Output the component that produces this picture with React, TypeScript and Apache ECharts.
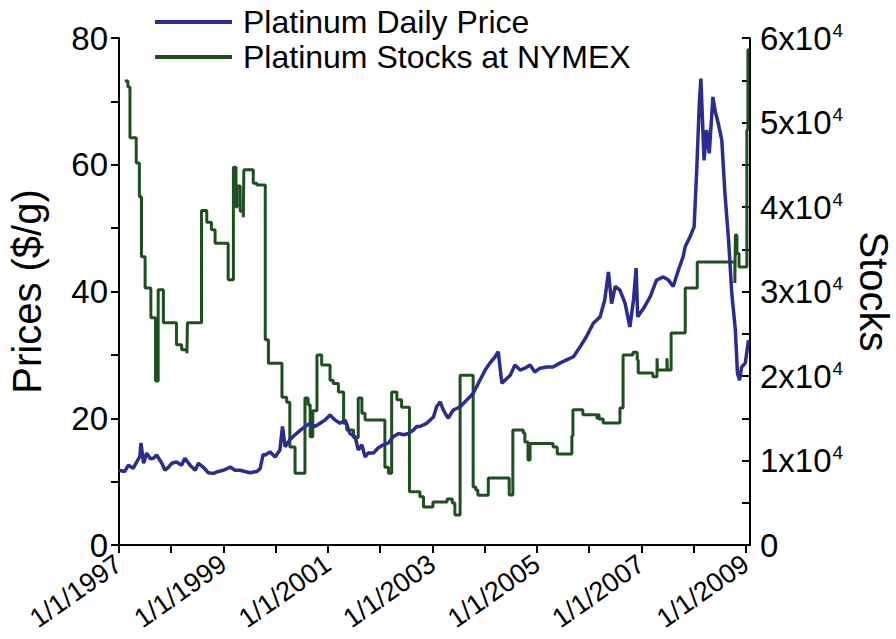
import React, { useEffect, useRef } from "react";
import * as echarts from "echarts";

// Platinum daily price ($/g) sampled from the chart, x in decimal years
const priceYears = [
  1997.0, 1997.11, 1997.18, 1997.27, 1997.34, 1997.4, 1997.42, 1997.47, 1997.53, 1997.6, 1997.66, 1997.72, 1997.82, 1997.88, 1997.94,
  1998.01, 1998.1, 1998.2, 1998.26, 1998.36, 1998.46, 1998.52, 1998.61, 1998.71, 1998.81, 1998.9,
  1999.0, 1999.13, 1999.22, 1999.32, 1999.41, 1999.51, 1999.64, 1999.7, 1999.76, 1999.8, 1999.89, 1999.99,
  2000.08, 2000.13, 2000.18, 2000.27, 2000.37, 2000.47, 2000.56, 2000.66, 2000.75, 2000.85, 2000.94,
  2001.04, 2001.14, 2001.23, 2001.33, 2001.42, 2001.52, 2001.58, 2001.65, 2001.71, 2001.77, 2001.87, 2001.96,
  2002.06, 2002.16, 2002.25, 2002.35, 2002.45, 2002.54, 2002.63, 2002.7, 2002.76, 2002.89,
  2003.02, 2003.08, 2003.15, 2003.21, 2003.3, 2003.4, 2003.53, 2003.66, 2003.78, 2003.91,
  2004.01, 2004.1, 2004.2, 2004.26, 2004.33, 2004.39, 2004.49, 2004.58, 2004.68, 2004.77, 2004.87, 2004.96,
  2005.06, 2005.19, 2005.31, 2005.44, 2005.57, 2005.7, 2005.83, 2005.95,
  2006.08, 2006.21, 2006.3, 2006.37, 2006.43, 2006.5, 2006.59, 2006.69, 2006.78, 2006.85, 2006.9, 2006.93,
  2007.04, 2007.17, 2007.29, 2007.42, 2007.52, 2007.61, 2007.71, 2007.8, 2007.84, 2007.93,
  2008.01, 2008.06, 2008.11, 2008.14, 2008.17, 2008.2, 2008.25, 2008.3, 2008.37, 2008.41, 2008.47, 2008.54,
  2008.6, 2008.67, 2008.73, 2008.8, 2008.84, 2008.88, 2008.92, 2008.99, 2009.05,
];
const priceValues = [
  11.8, 11.6, 12.6, 12.1, 13.1, 14.0, 16.1, 12.9, 14.5, 13.6, 13.7, 14.2, 12.9, 11.8, 12.2,
  12.9, 13.1, 12.6, 13.7, 12.6, 11.8, 12.9, 12.3, 11.4, 11.3, 11.6,
  11.8, 12.3, 11.8, 11.8, 11.6, 11.4, 11.6, 12.0, 14.3, 14.2, 14.7, 13.9,
  15.0, 18.7, 15.5, 16.6, 17.4, 18.1, 18.7, 19.2, 18.7, 19.2, 19.7,
  20.5, 19.7, 19.2, 19.7, 17.6, 17.1, 15.0, 15.8, 13.9, 14.5, 14.5, 15.3,
  15.8, 16.1, 17.1, 17.6, 17.4, 17.6, 18.1, 18.7, 18.7, 19.2,
  20.2, 21.8, 22.6, 21.3, 20.0, 21.3, 21.8, 22.9, 23.9, 26.0,
  27.6, 28.7, 29.7, 30.5, 25.5, 26.0, 26.8, 28.4, 27.6, 27.9, 28.4, 27.3,
  27.9, 28.1, 28.1, 28.7, 29.2, 29.7, 31.3, 32.9,
  35.0, 36.0, 38.7, 43.1, 38.1, 40.8, 40.2, 38.1, 34.4, 38.7, 43.7, 36.0,
  37.3, 39.2, 41.8, 42.3, 41.8, 40.8, 43.4, 45.5, 47.1, 48.6,
  50.2, 59.2, 69.7, 73.6, 67.1, 60.7, 65.5, 61.8, 70.7, 68.6, 66.6, 63.9,
  55.5, 48.1, 39.8, 33.9, 27.1, 26.0, 28.1, 28.7, 32.3,
];

// Platinum stocks at NYMEX (step changes), x in decimal years
const stockYears = [
  1997.11, 1997.17, 1997.21, 1997.33, 1997.39, 1997.43, 1997.5, 1997.61, 1997.7, 1997.75, 1997.85,
  1998.1, 1998.2, 1998.3, 1998.31, 1998.58, 1998.68, 1998.77, 1998.84,
  1999.09, 1999.19, 1999.24, 1999.26, 1999.32, 1999.38, 1999.39, 1999.57, 1999.64, 1999.8, 1999.86,
  2000.12, 2000.21, 2000.27, 2000.37, 2000.56, 2000.62, 2000.66, 2000.71, 2000.79, 2000.88,
  2001.04, 2001.1, 2001.2, 2001.3, 2001.36, 2001.49, 2001.58, 2001.65, 2001.71,
  2002.09, 2002.16, 2002.22, 2002.32, 2002.41, 2002.56, 2002.76, 2002.83,
  2003.01, 2003.28, 2003.38, 2003.43, 2003.53, 2003.78, 2003.83, 2003.87,
  2004.07, 2004.47, 2004.54, 2004.74, 2004.77, 2004.83, 2004.87,
  2005.31, 2005.39, 2005.67, 2005.69, 2005.88,
  2006.15, 2006.17, 2006.19, 2006.27, 2006.59, 2006.65, 2006.84, 2006.92, 2006.94,
  2007.22, 2007.3, 2007.31, 2007.49, 2007.5, 2007.57, 2007.84,
  2008.07, 2008.79, 2008.8, 2008.83, 2008.87, 2009.02, 2009.04, 2009.06,
];
const stockValues = [
  54900, 54200, 48200, 45200, 41200, 34100, 30400, 26900, 19400, 30200, 26300,
  23700, 23100, 22700, 26300, 39600, 38200, 37300, 35700,
  31400, 44700, 40000, 42500, 39500, 38800, 44400, 42800, 42600, 24300, 21500,
  17500, 16900, 11600, 8500, 17400, 16600, 12800, 15900, 22500, 21300,
  19500, 19100, 18100, 14400, 13600, 12700, 17400, 15600, 14800,
  9200, 8500, 18100, 17200, 16300, 6300, 5700, 4500,
  5090, 5440, 4970, 3550, 20100, 6860, 6500, 5900,
  7930, 5920, 13600, 13250, 12190, 10060, 12000,
  11600, 10770, 12900, 16000, 15400,
  15000, 15400, 14900, 14440, 16200, 22500, 22800, 21900, 20350,
  19900, 22100, 20700, 22100, 20700, 25100, 30400,
  33500, 31000, 36700, 34500, 32900, 49100, 58600, 58600,
];

const seriesNames = ["Platinum Daily Price", "Platinum Stocks at NYMEX"];
const seriesColors = ["#2c2b8e", "#1f4f1f"];

const FONT = "Liberation Sans, Arial, sans-serif";

export default function App() {
  const ref = useRef<HTMLDivElement>(null);
  useEffect(() => {
    if (!ref.current) return;
    const chart = echarts.init(ref.current, undefined, { renderer: "svg" });
    const axisLine = { show: true, lineStyle: { color: "#000", width: 2 } };
    chart.setOption({
      animation: false,
      backgroundColor: "#fff",
      textStyle: { fontFamily: FONT, color: "#000" },
      legend: {
        orient: "vertical",
        left: 155,
        top: 6,
        padding: 0,
        itemWidth: 77,
        itemHeight: 4,
        itemGap: 3,
        icon: "rect",
        data: seriesNames,
        textStyle: { fontSize: 32, fontFamily: FONT, color: "#000", padding: [0, 0, 0, 6], lineHeight: 32 },
      },
      grid: { left: 119, right: 146, top: 38, bottom: 94, containLabel: false, outerBoundsMode: "none" },
      xAxis: {
        type: "value",
        min: 1997,
        max: 2009.08,
        interval: 1,
        axisLine,
        axisTick: { show: true, length: 8, lineStyle: { color: "#000", width: 2 } },
        splitLine: { show: false },
        axisLabel: {
          rotate: 35,
          fontSize: 27,
          fontFamily: FONT,
          color: "#000",
          margin: 16,
          showMaxLabel: false,
          hideOverlap: false,
          formatter: (v: number) => {
            const r = Math.round(v);
            if (Math.abs(v - r) > 0.001) return "";
            return r % 2 === 1 ? `1/1/${r}` : "";
          },
        },
      },
      yAxis: [
        {
          type: "value",
          min: 0,
          max: 80,
          interval: 10,
          position: "left",
          name: "Prices ($/g)",
          nameLocation: "middle",
          nameRotate: 90,
          nameGap: 72,
          nameTextStyle: { fontSize: 40, fontFamily: FONT, color: "#000" },
          axisLine,
          axisTick: { show: true, length: 8, lineStyle: { color: "#000", width: 2 } },
          splitLine: { show: false },
          axisLabel: {
            fontSize: 33,
            fontFamily: FONT,
            color: "#000",
            margin: 11,
            formatter: (v: number) => (v % 20 === 0 ? String(v) : ""),
          },
        },
        {
          type: "value",
          min: 0,
          max: 60000,
          interval: 5000,
          position: "right",
          name: "Stocks",
          nameLocation: "middle",
          nameRotate: -90,
          nameGap: 103,
          nameTextStyle: { fontSize: 40, fontFamily: FONT, color: "#000" },
          axisLine,
          axisTick: { show: true, inside: true, length: 8, lineStyle: { color: "#000", width: 2 } },
          splitLine: { show: false },
          axisLabel: {
            margin: 10,
            formatter: (v: number) => {
              if (v % 10000 !== 0) return "";
              if (v === 0) return "{b|0}";
              return `{b|${v / 10000}x10}{s|4}`;
            },
            rich: {
              b: { fontSize: 33, fontFamily: FONT, color: "#000" },
              s: { fontSize: 19, fontFamily: FONT, color: "#000", verticalAlign: "top", padding: [0, 0, 16, 1] },
            },
          },
        },
      ],
      series: [
        {
          name: seriesNames[1],
          type: "line",
          yAxisIndex: 1,
          step: "end",
          showSymbol: false,
          color: seriesColors[1],
          lineStyle: { width: 3, color: seriesColors[1] },
          data: stockYears.map((x, i) => [x, stockValues[i]]),
          z: 2,
        },
        {
          name: seriesNames[0],
          type: "line",
          yAxisIndex: 0,
          showSymbol: false,
          color: seriesColors[0],
          lineStyle: { width: 3.5, color: seriesColors[0] },
          data: priceYears.map((x, i) => [x, priceValues[i]]),
          z: 3,
        },
      ],
    });
    return () => chart.dispose();
  }, []);
  return <div ref={ref} style={{ position: "fixed", left: 0, top: 0, width: 896, height: 639 }} />;
}
